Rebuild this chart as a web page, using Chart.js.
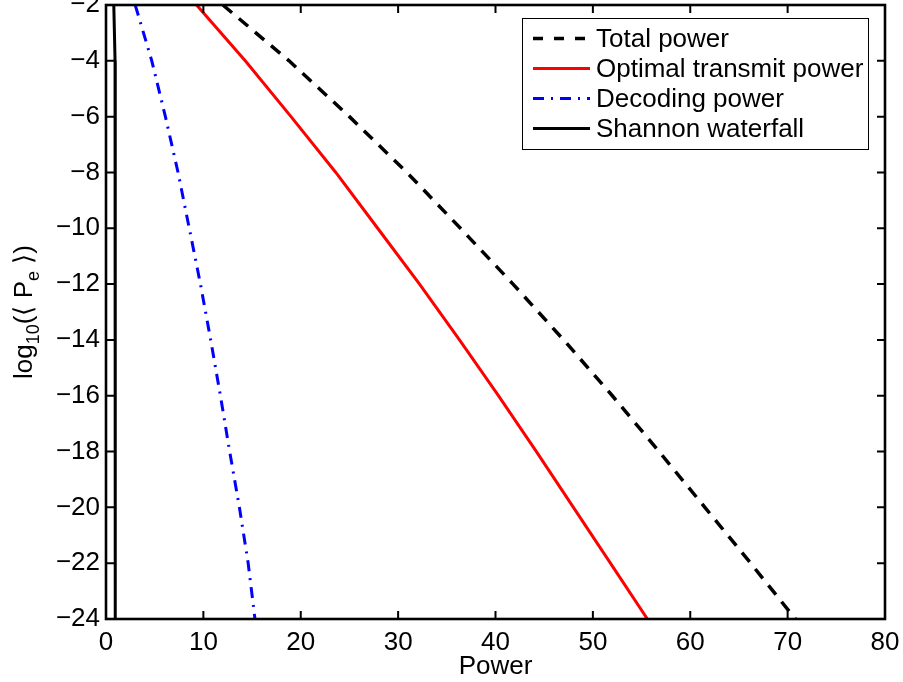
<!DOCTYPE html>
<html>
<head>
<meta charset="utf-8">
<script src="https://cdn.jsdelivr.net/npm/chart.js@4.4.1/dist/chart.umd.min.js"></script>
<style>
  html, body { margin: 0; padding: 0; background: #fff; }
  #wrap { width: 903px; height: 682px; }
</style>
</head>
<body>
<div id="wrap"><canvas id="pe-chart" width="903" height="682"></canvas></div>
<script>
const logPe         = [-2, -4, -6, -8, -10, -12, -14, -16, -18, -20, -22, -24];
const totalPower    = [12.0, 18.8, 25.0, 30.9, 36.4, 41.8, 47.0, 52.0, 56.8, 61.5, 66.2, 70.8];
const transmitPower = [9.3, 14.3, 19.0, 23.6, 27.9, 32.2, 36.3, 40.3, 44.2, 48.0, 51.8, 55.6];
const decodingPower = [3.0, 4.7, 6.1, 7.4, 8.55, 9.7, 10.75, 11.75, 12.7, 13.7, 14.6, 15.3];
const shannonPower  = [0.8, 0.93, 0.95, 0.95, 0.95, 0.95, 0.95, 0.95, 0.95, 0.95, 0.95, 0.95];

const seriesLabels = ["Total power", "Optimal transmit power", "Decoding power", "Shannon waterfall"];
const xTicks = [0, 10, 20, 30, 40, 50, 60, 70, 80];
const yTicks = [-24, -22, -20, -18, -16, -14, -12, -10, -8, -6, -4, -2];

const fontFamily = '"Liberation Sans", Arial, Helvetica, sans-serif';
const fontSize = 26;
Chart.defaults.font.family = fontFamily;
Chart.defaults.color = "#000";

function toPoints(xs) {
    return logPe.map((y, i) => ({ x: xs[i], y }));
}

// frame round the axes with matlab style inward ticks
const framePlugin = {
    id: "frame",
    afterDatasetsDraw(chart) {
        const { ctx, chartArea: a, scales } = chart;
        const len = 8;
        ctx.save();
        ctx.strokeStyle = "#000";
        ctx.lineWidth = 2;
        ctx.beginPath();
        scales.x.ticks.forEach(t => {
            const px = scales.x.getPixelForValue(t.value);
            ctx.moveTo(px, a.bottom); ctx.lineTo(px, a.bottom - len);
            ctx.moveTo(px, a.top); ctx.lineTo(px, a.top + len);
        });
        scales.y.ticks.forEach(t => {
            const py = scales.y.getPixelForValue(t.value);
            ctx.moveTo(a.left, py); ctx.lineTo(a.left + len, py);
            ctx.moveTo(a.right, py); ctx.lineTo(a.right - len, py);
        });
        ctx.stroke();
        ctx.lineWidth = 2.6;
        ctx.strokeRect(a.left, a.top, a.right - a.left, a.bottom - a.top);
        ctx.restore();
    }
};

// y title with subscripts: log10(<P_e>)
const yTitlePlugin = {
    id: "yTitle",
    afterDraw(chart) {
        const { ctx, chartArea } = chart;
        const cy = (chartArea.top + chartArea.bottom) / 2;
        const big = fontSize + "px " + fontFamily;
        const small = "18px " + fontFamily;
        const parts = [
            ["log", big, 0],
            ["10", small, 7],
            ["(\u27E8 P", big, 0],
            ["e", small, 7],
            [" \u27E9)", big, 0]
        ];
        ctx.save();
        ctx.translate(32, cy);
        ctx.rotate(-Math.PI / 2);
        ctx.fillStyle = "#000";
        ctx.textBaseline = "alphabetic";
        let total = 0;
        parts.forEach(p => { ctx.font = p[1]; total += ctx.measureText(p[0]).width; });
        let x = -total / 2;
        parts.forEach(([txt, f, dy]) => {
            ctx.font = f;
            ctx.fillText(txt, x, dy);
            x += ctx.measureText(txt).width;
        });
        ctx.restore();
    }
};

// legend box in the upper right corner
const legendPlugin = {
    id: "boxLegend",
    afterDraw(chart) {
        const { ctx } = chart;
        const box = { left: 522, top: 18, right: 868, bottom: 149 };
        ctx.save();
        ctx.fillStyle = "#fff";
        ctx.fillRect(box.left, box.top, box.right - box.left, box.bottom - box.top);
        ctx.strokeStyle = "#000";
        ctx.lineWidth = 1;
        ctx.strokeRect(box.left + 0.5, box.top + 0.5, box.right - box.left, box.bottom - box.top);
        ctx.font = fontSize + "px " + fontFamily;
        ctx.textBaseline = "middle";
        ctx.textAlign = "left";
        chart.data.datasets.forEach((ds, i) => {
            const y = 38.5 + i * 30;
            ctx.beginPath();
            ctx.strokeStyle = ds.borderColor;
            ctx.lineWidth = ds.borderWidth;
            ctx.setLineDash(ds.legendDash || ds.borderDash || []);
            ctx.moveTo(533, y);
            ctx.lineTo(590, y);
            ctx.stroke();
            ctx.setLineDash([]);
            ctx.fillStyle = "#000";
            ctx.fillText(ds.label, 596, y + 1);
        });
        ctx.restore();
    }
};

const ctx = document.getElementById("pe-chart").getContext("2d");

new Chart(ctx, {
    type: "scatter",
    data: {
        datasets: [
            {
                label: seriesLabels[0],
                data: toPoints(totalPower),
                borderColor: "#000000",
                borderWidth: 3.5,
                borderDash: [12, 9],
                legendDash: [10, 11]
            },
            {
                label: seriesLabels[1],
                data: toPoints(transmitPower),
                borderColor: "#ff0000",
                borderWidth: 3
            },
            {
                label: seriesLabels[2],
                data: toPoints(decodingPower),
                borderColor: "#0000ff",
                borderWidth: 3,
                borderDash: [11, 7, 2, 7]
            },
            {
                label: seriesLabels[3],
                data: toPoints(shannonPower),
                borderColor: "#000000",
                borderWidth: 3
            }
        ]
    },
    options: {
        responsive: false,
        animation: false,
        showLine: true,
        elements: { point: { radius: 0, hoverRadius: 0 }, line: { tension: 0 } },
        layout: { padding: { left: 0, right: 18, top: 5, bottom: 0 } },
        plugins: {
            legend: { display: false },
            tooltip: { enabled: false }
        },
        scales: {
            x: {
                type: "linear",
                min: 0,
                max: 80,
                afterBuildTicks: s => { s.ticks = xTicks.map(v => ({ value: v })); },
                afterFit: s => { s.height = 63; s.paddingLeft = 0; s.paddingRight = 0; },
                grid: { display: false, drawTicks: false },
                border: { display: false },
                ticks: { font: { size: fontSize }, color: "#000", padding: 8, maxRotation: 0 },
                title: {
                    display: true,
                    text: "Power",
                    font: { size: fontSize },
                    color: "#000",
                    padding: { top: 0, bottom: 0 }
                }
            },
            y: {
                type: "linear",
                min: -24,
                max: -2,
                afterBuildTicks: s => { s.ticks = yTicks.map(v => ({ value: v })); },
                afterFit: s => { s.width = 106; s.paddingTop = 0; s.paddingBottom = 0; },
                grid: { display: false, drawTicks: false },
                border: { display: false },
                ticks: {
                    font: { size: fontSize },
                    color: "#000",
                    padding: 6,
                    callback: v => (v < 0 ? "\u2212" + Math.abs(v) : String(v))
                }
            }
        }
    },
    plugins: [framePlugin, legendPlugin, yTitlePlugin]
});
</script>
</body>
</html>
